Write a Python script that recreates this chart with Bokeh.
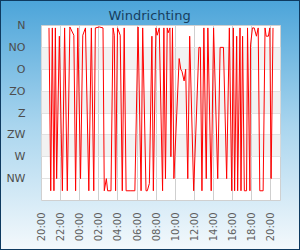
from datetime import datetime, timedelta
from bokeh.plotting import figure
from bokeh.models import Range1d, FixedTicker, DatetimeTickFormatter, BoxAnnotation
from bokeh.embed import file_html
from bokeh.resources import INLINE

# ---- data ----
times = ["20:47", "20:58", "21:08", "21:18", "21:27", "21:35", "21:52", "22:11", "22:25", "22:42",
         "22:58", "23:23", "23:34", "23:48", "00:05", "00:19", "00:36", "00:57", "01:13", "01:28",
         "01:38", "02:03", "02:26", "02:34", "02:47", "02:55", "03:16", "03:29", "03:37", "03:45",
         "03:57", "04:14", "04:27", "04:39", "04:51", "05:16", "05:46", "06:06", "06:25", "06:35",
         "06:56", "07:04", "07:17", "07:33", "07:42", "07:58", "08:06", "08:19", "08:40", "08:48",
         "08:58", "09:09", "09:15", "09:26", "09:32", "09:42", "09:51", "10:24", "10:34", "10:42",
         "10:55", "11:05", "11:18", "11:30", "11:55", "12:28", "12:37", "12:47", "12:59", "13:14",
         "13:24", "13:45", "14:00", "14:26", "14:41", "15:02", "15:22", "15:39", "15:54", "16:04",
         "16:12", "16:25", "16:31", "16:46", "16:52", "17:02", "17:13", "17:27", "17:33", "17:48",
         "17:52", "18:04", "18:15", "18:29", "18:40", "18:50", "19:11", "19:23", "19:30", "19:44",
         "19:53", "20:01", "20:13"]
directions = [5, 340, 5, 340, 5, 315, 22, 340, 5, 340,
              3, 20, 340, 5, 315, 20, 5, 340, 5, 340,
              5, 3, 5, 340, 315, 340, 340, 5, 20, 340,
              5, 20, 340, 5, 340, 340, 340, 3, 340, 5,
              340, 340, 325, 22, 340, 5, 20, 5, 340, 5,
              315, 5, 15, 5, 270, 5, 315, 68, 90, 95,
              114, 90, 315, 22, 340, 45, 45, 340, 5, 315,
              5, 340, 5, 315, 45, 45, 315, 5, 340, 5,
              340, 22, 340, 5, 340, 22, 340, 340, 5, 340,
              40, 5, 5, 22, 5, 340, 340, 5, 22, 22,
              5, 315, 5]
direction_ticks = [0, 45, 90, 135, 180, 225, 270, 315]
direction_labels = ["N", "NO", "O", "ZO", "Z", "ZW", "W", "NW"]
band_bottoms = [45, 135, 225]
band_tops = [90, 180, 270]
time_ticks = ["20:00", "22:00", "00:00", "02:00", "04:00", "06:00", "08:00",
              "10:00", "12:00", "14:00", "16:00", "18:00", "20:00"]
title_text = "Windrichting"


def to_datetimes(labels, base=datetime(2024, 5, 1)):
    out, day, prev = [], 0, None
    for s in labels:
        h, m = map(int, s.split(":"))
        if prev is not None and h * 60 + m < prev:
            day += 1
        prev = h * 60 + m
        out.append(base + timedelta(days=day, hours=h, minutes=m))
    return out


xs = to_datetimes(times)
tick_dts = to_datetimes(time_ticks)
start = tick_dts[0]
end = tick_dts[-1] + timedelta(hours=1)

p = figure(width=300, height=250, x_axis_type="datetime",
           x_range=Range1d(start, end), y_range=Range1d(360, 0),
           output_backend="svg", toolbar_location=None,
           min_border_left=41, min_border_right=20, min_border_bottom=50,
           min_border_top=25)

p.title.text = title_text
p.title.align = "left"
p.title.offset = 67
p.title.standoff = 6
p.title.text_font = "DejaVu Sans"
p.title.text_font_size = "13px"
p.title.text_font_style = "normal"
p.title.text_color = "#173e5f"

p.styles = {"background": "linear-gradient(to bottom, #4ba4d9 0%, #a9d5ee 50%, #f4f9fc 100%)",
            "box-shadow": "inset 0 0 0 1px #0e3a60"}
p.border_fill_color = None
p.background_fill_color = "white"
p.outline_line_color = "#d0d0d0"

boxes = [BoxAnnotation(bottom=b, top=t, fill_color="#f2f2f2", fill_alpha=1,
                       line_color=None, level="underlay")
         for b, t in zip(band_bottoms, band_tops)]
p.center = boxes + list(p.center)

p.line(xs, directions, line_color="#ff0000", line_width=1)

# y axis
p.yaxis.ticker = FixedTicker(ticks=direction_ticks)
p.yaxis.major_label_overrides = {t: l for t, l in zip(direction_ticks, direction_labels)}
p.yaxis.axis_line_color = None
p.yaxis.major_tick_line_color = None
p.yaxis.minor_tick_line_color = None
p.yaxis.major_label_text_font = "DejaVu Sans"
p.yaxis.major_label_text_font_size = "11px"
p.yaxis.major_label_text_color = "#4d4d4d"
p.yaxis.major_label_standoff = 10

# x axis
epoch = datetime(1970, 1, 1)
p.xaxis.ticker = FixedTicker(ticks=[(t - epoch).total_seconds() * 1000 for t in tick_dts])
fmt = "%H:%M"
p.xaxis.formatter = DatetimeTickFormatter(microseconds=fmt, milliseconds=fmt, seconds=fmt,
                                          minsec=fmt, minutes=fmt, hourmin=fmt, hours=fmt,
                                          days=fmt, months=fmt, years=fmt)
p.xaxis.major_label_orientation = 3.14159265 / 2
p.xaxis.axis_line_color = None
p.xaxis.major_tick_line_color = None
p.xaxis.minor_tick_line_color = None
p.xaxis.major_label_text_font = "DejaVu Sans"
p.xaxis.major_label_text_font_size = "10px"
p.xaxis.major_label_text_color = "#606060"
p.xaxis.major_label_standoff = 6

# grids
p.ygrid.grid_line_color = "#e2e2e2"
p.xgrid.grid_line_color = "#cfcfcf"

open("out.html", "w").write(file_html(p, INLINE))
